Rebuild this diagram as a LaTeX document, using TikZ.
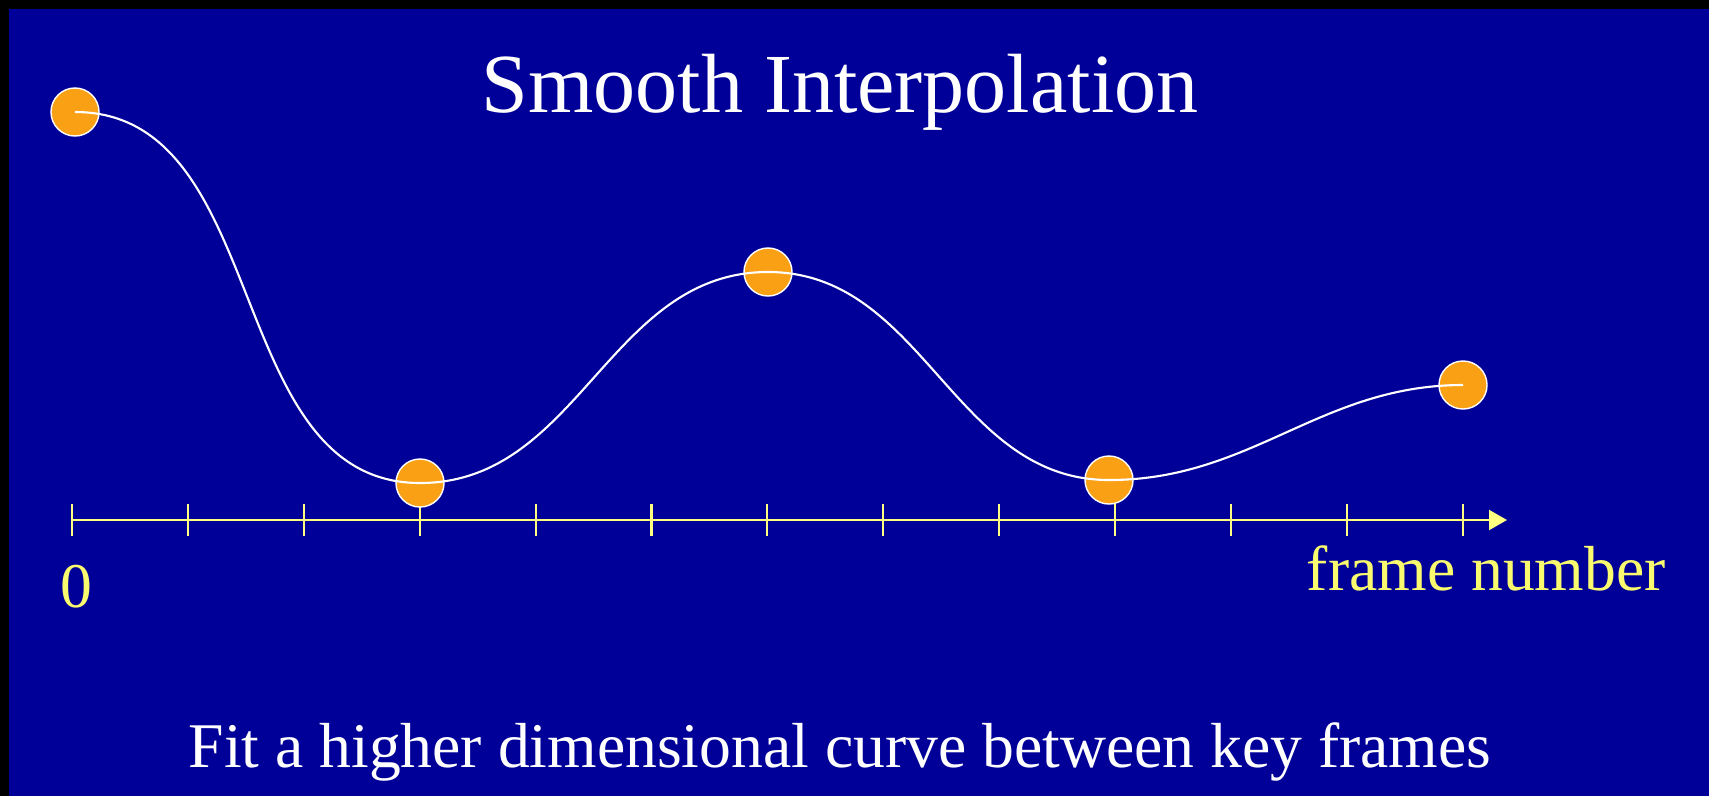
\documentclass[tikz,border=0pt]{standalone}
\usepackage{fontspec}
\setmainfont{Liberation Serif}
\usetikzlibrary{arrows.meta}
\definecolor{slideblue}{RGB}{0,0,153}
\definecolor{keyorange}{RGB}{250,160,20}
\definecolor{axisyellow}{RGB}{255,255,130}
\definecolor{labelyellow}{RGB}{250,250,110}

\begin{document}
\begin{tikzpicture}[x=0.01cm,y=-0.01cm,
  every node/.style={font=\fontsize{18.1}{21}\selectfont},
  keyframe/.style={circle,fill=keyorange,draw=white,line width=0.4pt,
    minimum size=0.48cm,inner sep=0pt},
  axisline/.style={axisyellow,line width=0.6pt}]
\useasboundingbox (0,0) rectangle (1709,796);
\fill[black] (0,0) rectangle (1709,796);
\fill[slideblue] (9,9) rectangle (1709,796);

\node[anchor=base,white,font=\fontsize{23.9}{28}\selectfont] (title)
  at (840,112) {Smooth Interpolation};

% frame axis
\coordinate (origin) at (72,520);
\coordinate (axisend) at (1507,520);
\draw[axisline,-{Triangle[length=0.18cm,width=0.2cm]}] (origin) -- (axisend);
\foreach \i in {0,...,12}
  \draw[axisline] (72+115.9*\i,504) -- ++(0,32);
\node[anchor=base,labelyellow] (zero) at (76,607) {0};
\node[anchor=base east,labelyellow] (xlabel) at (1678,590) {frame number};

% key frames
\node[keyframe] (k0) at (75,112) {};
\node[keyframe] (k1) at (420,483) {};
\node[keyframe] (k2) at (768,272) {};
\node[keyframe] (k3) at (1109,480) {};
\node[keyframe] (k4) at (1463,385) {};
\draw[white,line width=0.6pt] (k0.center) to[out=0,in=180] (k1.center)
  to[out=0,in=180] (k2.center) to[out=0,in=180] (k3.center)
  to[out=0,in=180] (k4.center);

\node[anchor=base,white] (caption) at (840,767)
  {Fit a higher dimensional curve between key frames};
\end{tikzpicture}
\end{document}
